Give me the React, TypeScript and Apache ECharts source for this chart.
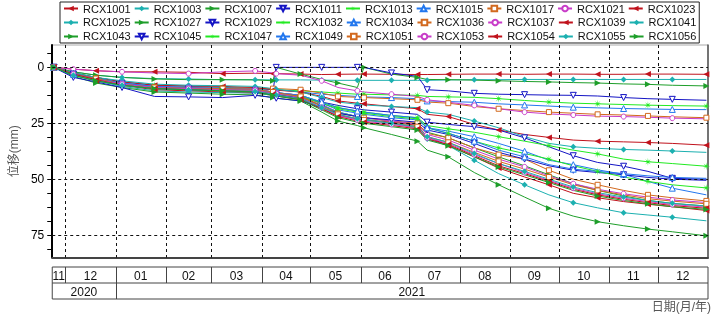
import React, { useEffect, useRef } from 'react';
import * as echarts from 'echarts';

// ---------- data ----------
const dates = ['2020-11-24','2020-12-06','2020-12-20','2021-01-05','2021-01-25','2021-02-15','2021-03-08','2021-03-28','2021-04-08','2021-04-10','2021-04-25','2021-05-08','2021-05-18','2021-05-30','2021-06-03','2021-06-20','2021-07-06','2021-07-12','2021-07-25','2021-08-10','2021-08-25','2021-09-10','2021-09-25','2021-10-10','2021-10-25','2021-11-10','2021-11-25','2021-12-10','2021-12-31'];

const names = ['RCX1001','RCX1003','RCX1007','RCX1011','RCX1013','RCX1015','RCX1017','RCX1021','RCX1023','RCX1025','RCX1027','RCX1029','RCX1032','RCX1034','RCX1036','RCX1037','RCX1039','RCX1041','RCX1043','RCX1045','RCX1047','RCX1049','RCX1051','RCX1053','RCX1054','RCX1055','RCX1056'];

const RCX1001 = [0,0.8,1.5,2,2,2.2,2.8,2.6,2.8,2.8,3,3.2,3.1,3,3,3.1,3.2,3.2,3.1,3,3,3.1,3,3,3.1,3.1,3,3,3.1];
const RCX1003 = [0,2,3.5,4.5,5,5.2,5.5,5.5,5.6,5.6,5.6,5.7,5.8,5.8,5.8,5.8,5.8,5.8,5.6,5.5,5.5,5.4,5.4,5.4,5.4,5.4,5.4,5.4,5.4];
const RCX1007 = [0,2,3.5,4.5,5.2,5.5,5.5,5.6,6,0,3,5.4,7,9,0,3,4.5,5.4,5.5,5.7,6,6.3,6.5,6.8,7,7.4,7.6,8,8.3];
const RCX1011 = [0,3,5,7,9,9.5,10,10.5,11,0,0,0,0,0,0,2.5,4,10,10.5,11.6,12,12.2,12.4,12.5,12.8,13.5,14,14.3,14.7];
const RCX1013 = [0,2.5,4.5,6.5,8,8.5,9,9.5,10,10,10.5,11,11.5,12,12,12.3,12.5,13,13.2,13.4,14,14.8,15.5,16,16.3,16.6,16.9,17.1,17.3];
const RCX1015 = [0,2.5,4.5,6.5,8,8.5,9,9.5,10,10,11,12,12.5,13,13.2,13.5,14,15,15.3,15.6,16.3,16.8,17.3,17.8,18.1,18.4,18.6,18.8,18.9];
const RCX1017 = [0,3,5,7.5,9,9.4,9.4,9.2,9.5,9.5,10,11.5,13,13.4,13.5,14,14.5,15.5,16,17.5,18.5,19.3,20,20.5,21,21.3,21.7,22.1,22.5];
const RCX1021 = [0,0.8,1.5,2,2.5,2.8,2,1.6,2.5,2.8,3.5,6,9,10.5,11,12,13,14.5,15.6,17,18.5,20,20.8,21.3,21.8,22,22.3,22.7,23];
const RCX1023 = [0,2.5,4.5,6.5,8,8.3,8.5,9,10,10.2,11,13,15,16,16.3,17.5,18.5,21,22,25.5,28,30,31.3,32.5,33,33.3,33.6,34,34.8];
const RCX1025 = [0,2.5,4.5,6,7.5,8,8.2,8.5,9.5,9.8,11,13.5,15.5,16.5,16.8,17.5,18,20,21,24,27,31,34,35.5,36.2,36.7,37,37.4,38];
const RCX1027 = [0,3,5,7,9,9.5,10,10.3,11.5,12,13.5,17,20,22,22.5,24,25.5,29,31.5,36,40,44,48,52,55,57.5,59.5,60.8,62];
const RCX1029 = [0,3,5,7.5,9.5,10,10.5,11,12,12.3,13.5,15.5,17,18.5,19,20,21,24.5,25.5,26.5,28,31.5,35.5,39.5,42.5,44.2,46.5,49.6,50];
const RCX1032 = [0,3,5,7,8.5,9,9.5,9.8,11,11.3,12.5,15.5,18,19.5,20,21.5,22.5,26,27.5,29,31,33,35,37,38.7,41,42.2,43,44.2];
const RCX1034 = [0,3,5,7,8.5,9,9.5,10,11,11.3,12.5,16,19,20.5,21,22.5,23.5,27,28.5,31,34,37.5,41.5,43.5,45.8,47.8,51,54,57];
const RCX1036 = [0,3.5,5.5,7.5,9,9.5,10,10.2,11.5,11.8,13,17,20.5,22,22.5,24,25,29.5,31.5,36,39,41,46,50,52.5,55,57,58.3,59.7];
const RCX1037 = [0,3,5,7,8.5,9,9.5,9.8,11,11.3,12.5,16.5,20,22,22.5,24,25.5,30,32.5,37,41,44.5,48.5,52,54.5,56.5,58,59.3,60.4];
const RCX1039 = [0,3.5,6,8,10,10.5,11,11.5,12.5,12.8,14.5,18.5,21.5,23,23.5,24.5,26,31,35,40,45,49,52.5,56.3,58.3,60,61.2,62.3,64];
const RCX1041 = [0,3.5,6,8.5,10.5,11,11.3,11.5,12.5,12.8,14,17,20,22,23,25,27,32,35,41.5,47.5,52.5,57,60.5,62.8,65,66,67,68.6];
const RCX1043 = [0,4,7,9,11,11.5,12,12.3,13.5,13.8,15,20,24,26,27,30,33,37,40,47,52.5,58,63,66.5,69,70.8,72.3,73.5,75.3];
const RCX1045 = [0,4.5,6.5,9,13,13.2,13.5,12.5,13.5,13.8,15,18,20.5,22,22.5,23.5,24.5,28,30,34,38,41,44,46,47,48,49.2,50,50.5];
const RCX1047 = [0,3,5.5,7.5,9,9.5,10,10.3,11.5,11.8,13,16,18.5,20,20.5,22,23,27,29.5,33,36,38.5,41,44,46.5,49,51,52.5,53.9];
const RCX1049 = [0,3,5,7,8.5,9,9.5,9.8,11,11.3,12.5,15.5,18,19.5,20,21.5,22.5,27,29.5,33,37,40,43.5,45.5,46.5,47.5,48.5,49.2,49.6];
const RCX1051 = [0,3,5,7.5,9,9.3,9.5,9.8,11,11.3,13,17.5,21,23,23.5,25,26.5,31,33.5,38,42,45.5,49,52.5,55,57,58.7,59.8,61];
const RCX1053 = [0,3,5.5,7.5,9,9.5,10,10.3,11.5,11.8,13.5,18,21.5,23.5,24,25.5,27,31.5,34,39,43,47,50.5,54,56.5,58.5,60,61.3,62.5];
const RCX1054 = [0,3,5.5,8,9.5,10,10.5,11,12,12.3,14,18.5,22,24,24.5,26,27.5,32,34.5,39.5,44,47.5,51,54.5,57,59,60.5,61.8,63];
const RCX1055 = [0,3.5,6,8,9.5,10,10.5,10.8,12,12.3,14,18,21,23,23.5,25,26.5,31,33.5,38.5,43,46.5,50,53.5,56,58,59.5,60.8,62];
const RCX1056 = [0,3.5,6,8,9.5,10,10.5,11,12.5,12.8,14.5,19,22.5,24.5,25,26.5,28,32.5,35,40,44.5,48,51.5,55,57.5,59.5,61,62.3,63.5];

const seriesValues = [RCX1001,RCX1003,RCX1007,RCX1011,RCX1013,RCX1015,RCX1017,RCX1021,RCX1023,RCX1025,RCX1027,RCX1029,RCX1032,RCX1034,RCX1036,RCX1037,RCX1039,RCX1041,RCX1043,RCX1045,RCX1047,RCX1049,RCX1051,RCX1053,RCX1054,RCX1055,RCX1056];

const yLabelValues = [0, 25, 50, 75];
const yTickValues = [-6.25, 0, 6.25, 12.5, 18.75, 25, 31.25, 37.5, 43.75, 50, 56.25, 62.5, 68.75, 75, 81.25];
const monthLabels = ['11','12','01','02','03','04','05','06','07','08','09','10','11','12'];
const yearLabels = ['2020', '2021'];

// ---------- styles ----------
const STAR = 'path://M10,5L6.11,5.46L8.54,8.54L5.46,6.11L5,10L4.54,6.11L1.46,8.54L3.89,5.46L0,5L3.89,4.54L1.46,1.46L4.54,3.89L5,0L5.46,3.89L8.54,1.46L6.11,4.54Z';
const STYLES = [
  { color: '#c0121c', fill: '#c0121c', open: false, symbol: 'path://M0,5L10,0L10,10Z', size: 6 },
  { color: '#1cb0b0', fill: '#1cb0b0', open: false, symbol: 'diamond', size: 6 },
  { color: '#1e9e2a', fill: '#1e9e2a', open: false, symbol: 'path://M10,5L0,0L0,10Z', size: 6 },
  { color: '#1414c4', fill: '#ffffff', open: true, symbol: 'path://M0,0L10,0L5,9Z', size: 6 },
  { color: '#22ea22', fill: '#22ea22', open: false, symbol: STAR, size: 8 },
  { color: '#2277ee', fill: '#ffffff', open: true, symbol: 'path://M5,0L10,9L0,9Z', size: 6 },
  { color: '#d2691e', fill: '#ffffff', open: true, symbol: 'path://M0,0L10,0L10,10L0,10Z', size: 5 },
  { color: '#c83cc8', fill: '#ffffff', open: true, symbol: 'circle', size: 5 },
];

const FONT = '"Liberation Sans", Arial, "Noto Sans CJK SC", sans-serif';

const ts = (y: number, m: number, d: number) => new Date(y, m, d).getTime();
const T0 = ts(2020, 10, 23);
const T1 = ts(2022, 0, 1);
const monthBounds: number[] = [T0];
for (let i = 0; i < 13; i++) monthBounds.push(ts(2020, 11 + i, 1));
monthBounds.push(T1);
const yearBounds = [T0, ts(2021, 0, 1), T1];
const Y_MIN = -10;
const Y_MAX = 85;

export default function App() {
  const ref = useRef<HTMLDivElement>(null);
  useEffect(() => {
    if (!ref.current) return;
    const chart = echarts.init(ref.current, undefined, { renderer: 'svg' });
    const series: any[] = names.map((name, k) => {
      const st = STYLES[k % 8];
      const vals = seriesValues[k];
      return {
        name,
        type: 'line',
        xAxisIndex: 0,
        yAxisIndex: 0,
        z: 2,
        symbol: st.symbol,
        symbolSize: st.size,
        lineStyle: { color: st.color, width: 1 },
        itemStyle: { color: st.fill, borderColor: st.color, borderWidth: st.open ? 1 : 0 },
        emphasis: { disabled: true },
        data: dates.map((d, i) => ({
          value: [d, vals[i]],
          symbol: i === 0 || (i + k) % 2 === 0 ? st.symbol : 'none',
        })),
      };
    });
    chart.setOption({
      animation: false,
      textStyle: { fontFamily: FONT },
      grid: { left: 48, top: 45, width: 660, height: 212.5, show: true, borderColor: '#aaa', borderWidth: 1, containLabel: false },
      legend: {
        data: names,
        left: 60,
        top: 2,
        width: 640,
        orient: 'horizontal',
        itemWidth: 14,
        itemHeight: 7,
        itemGap: 3,
        padding: [1, 3, 1, 3],
        borderColor: '#222',
        borderWidth: 1,
        backgroundColor: '#fff',
        selectedMode: false,
        textStyle: { fontSize: 11, color: '#111', lineHeight: 10, fontFamily: FONT },
      },
      xAxis: [{
        type: 'time',
        min: T0,
        max: T1,
        position: 'bottom',
        axisLine: { show: true, onZero: false, lineStyle: { color: '#444', width: 2 } },
        axisTick: { show: false },
        axisLabel: { show: false },
        splitLine: { show: false },
      }],
      yAxis: [
        {
          type: 'value', inverse: true, min: Y_MIN, max: Y_MAX, position: 'left',
          axisLine: { show: true, onZero: false, lineStyle: { color: '#000', width: 2 } },
          axisTick: { show: true, length: 5, customValues: yTickValues, lineStyle: { color: '#000', width: 1 } },
          axisLabel: { show: true, customValues: yLabelValues, color: '#000', fontSize: 12, margin: 8, fontFamily: FONT },
          splitLine: { show: false },
          name: '位移(mm)', nameLocation: 'middle', nameGap: 24, nameRotate: 90,
          nameTextStyle: { fontSize: 12, color: '#555', fontFamily: FONT },
        },
        {
          type: 'value', inverse: true, min: Y_MIN, max: Y_MAX, position: 'right',
          axisLine: { show: true, onZero: false, lineStyle: { color: '#555', width: 1.5 } },
          axisTick: { show: false },
          axisLabel: { show: false },
          splitLine: { show: false },
        },
      ],
      series,
    });

    // pixel positions through the grid's own scales
    const toPx = (t: number, v: number) => chart.convertToPixel({ gridIndex: 0 }, [t, v]) as number[];
    const px = (t: number) => toPx(t, 0)[0];
    const py = (v: number) => toPx(T0, v)[1];
    const g: any[] = [];

    const gx0 = px(T0), gx1 = px(T1);
    const gy0 = py(Y_MIN), gy1 = py(Y_MAX);
    const dash = { stroke: '#111', lineWidth: 1, lineDash: [3, 3], fill: 'none' };
    for (const v of yLabelValues) {
      const y = Math.round(py(v)) + 0.5;
      g.push({ type: 'line', z: 100, silent: true, shape: { x1: gx0, y1: y, x2: gx1, y2: y }, style: dash });
    }
    for (let i = 1; i < monthBounds.length - 1; i++) {
      const x = Math.round(px(monthBounds[i])) + 0.5;
      g.push({ type: 'line', z: 100, silent: true, shape: { x1: x, y1: gy0, x2: x, y2: gy1 }, style: dash });
    }

    // month / year band under the plot
    const top = 267, mid = 283, bot = 299;
    const stroke = { stroke: '#444', lineWidth: 1 };
    g.push({ type: 'rect', shape: { x: gx0, y: top, width: gx1 - gx0, height: bot - top }, style: { fill: 'none', ...stroke } });
    g.push({ type: 'line', shape: { x1: gx0, y1: mid, x2: gx1, y2: mid }, style: stroke });
    for (let i = 1; i < monthBounds.length - 1; i++) {
      const x = Math.round(px(monthBounds[i])) + 0.5;
      g.push({ type: 'line', shape: { x1: x, y1: top, x2: x, y2: mid }, style: stroke });
    }
    for (let i = 0; i < monthLabels.length; i++) {
      const cx = (px(monthBounds[i]) + px(monthBounds[i + 1])) / 2;
      g.push({ type: 'text', style: { text: monthLabels[i], x: cx, y: (top + mid) / 2 + 0.5, align: 'center', verticalAlign: 'middle', fontSize: 12, fontFamily: FONT, fill: '#111' } });
    }
    for (let i = 1; i < yearBounds.length - 1; i++) {
      const x = Math.round(px(yearBounds[i])) + 0.5;
      g.push({ type: 'line', shape: { x1: x, y1: mid, x2: x, y2: bot }, style: stroke });
    }
    for (let i = 0; i < yearLabels.length; i++) {
      const cx = (px(yearBounds[i]) + px(yearBounds[i + 1])) / 2;
      g.push({ type: 'text', style: { text: yearLabels[i], x: cx, y: (mid + bot) / 2 + 0.5, align: 'center', verticalAlign: 'middle', fontSize: 12, fontFamily: FONT, fill: '#111' } });
    }
    g.push({ type: 'text', style: { text: '日期(月/年)', x: 711, y: 307, align: 'right', verticalAlign: 'middle', fontSize: 12, fontFamily: FONT, fill: '#555' } });
    chart.setOption({ graphic: g });

    return () => chart.dispose();
  }, []);
  return <div ref={ref} style={{ position: 'fixed', left: 0, top: 0, width: 713, height: 316 }} />;
}
